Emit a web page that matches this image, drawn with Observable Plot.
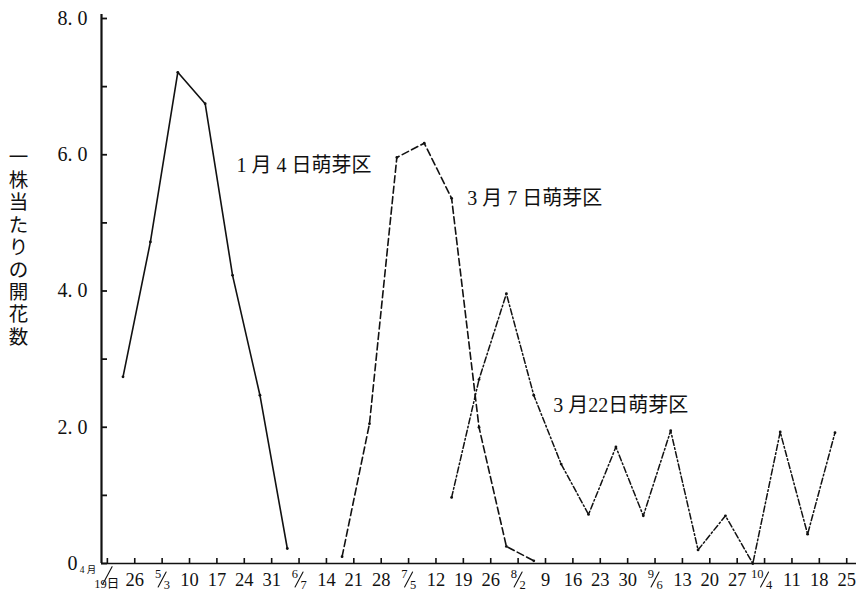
<!DOCTYPE html>
<html><head><meta charset="utf-8">
<script src="https://cdn.jsdelivr.net/npm/d3@7"></script>
<script src="https://cdn.jsdelivr.net/npm/@observablehq/plot@0.6"></script>
<style>body{margin:0;background:#fff;} #chart svg{display:block;}</style>
</head><body><div id="chart"></div>
<script>
const YEAR = 2001;
// week tick dates and their labels ("num/den" rendered as a stacked fraction)
const tickDates = ["04-19","04-26","05-03","05-10","05-17","05-24","05-31","06-07","06-14","06-21","06-28","07-05","07-12","07-19","07-26","08-02","08-09","08-16","08-23","08-30","09-06","09-13","09-20","09-27","10-04","10-11","10-18","10-25"];
const tickLabels = ["4 月/19日","26","5/3","10","17","24","31","6/7","14","21","28","7/5","12","19","26","8/2","9","16","23","30","9/6","13","20","27","10/4","11","18","25"];

// series: 1月4日萌芽区 (solid)
const jan4Dates = ["04-23","04-30","05-07","05-14","05-21","05-28","06-04"];
const jan4Values = [2.74, 4.72, 7.21, 6.75, 4.23, 2.47, 0.22];
// 3月7日萌芽区 (dashed)
const mar7Dates = ["06-18","06-25","07-02","07-09","07-16","07-23","07-30","08-06"];
const mar7Values = [0.10, 2.05, 5.96, 6.17, 5.36, 2.00, 0.25, 0.04];
// 3月22日萌芽区 (dash-dot)
const mar22Dates = ["07-16","07-23","07-30","08-06","08-13","08-20","08-27","09-03","09-10","09-17","09-24","10-01","10-08","10-15","10-22"];
const mar22Values = [0.97, 2.70, 3.96, 2.47, 1.46, 0.72, 1.71, 0.70, 1.95, 0.20, 0.70, 0.00, 1.93, 0.43, 1.92];

const yTicks = [0, 1, 2, 3, 4, 5, 6, 7, 8];
const yLabels = [0, 2, 4, 6, 8];
const yTitle = "一株当たりの開花数";

const seriesNames = ["1 月 4 日萌芽区", "3 月 7 日萌芽区", "3 月22日萌芽区"];
const annotDates = ["05-22", "07-20", "08-11"];
const annotValues = [5.84, 5.36, 2.32];

const d = s => new Date(`${YEAR}-${s}T00:00:00Z`);
const xDomain = [new Date(Date.UTC(YEAR, 3, 17, 12)), new Date(Date.UTC(YEAR, 9, 27, 12))];

const mk = (dates, vals) => dates.map((s, i) => ({date: d(s), value: vals[i]}));
const s1 = mk(jan4Dates, jan4Values);
const s2 = mk(mar7Dates, mar7Values);
const s3 = mk(mar22Dates, mar22Values);

const ticks = tickDates.map((s, i) => ({date: d(s), label: tickLabels[i]}));
const plain = ticks.filter(t => !t.label.includes("/"));
const fracs = ticks.filter(t => t.label.includes("/")).map(t => {
  const [num, den] = t.label.split("/");
  return {...t, num, den, first: num.includes("月")};
});
const fracN = fracs.filter(f => !f.first);
const fracF = fracs.filter(f => f.first);

const annots = seriesNames.map((n, i) => ({date: d(annotDates[i]), value: annotValues[i], text: n}));

const FONT = "'Liberation Serif', 'Noto Sans CJK JP', serif";
const ink = "#111";

// a plain stroke used for the fraction slash
const slash = {draw(ctx, l) { ctx.moveTo(0, 0); ctx.lineTo(0, -l); }};

const chart = Plot.plot({
  width: 856,
  height: 602,
  marginLeft: 101,
  marginRight: 0,
  marginTop: 18,
  marginBottom: 39,
  style: {fontFamily: FONT, background: "white", color: ink},
  x: {type: "utc", domain: xDomain, axis: null, label: null},
  y: {domain: [0, 8], axis: null, label: null},
  marks: [
    Plot.ruleY([0], {stroke: ink, strokeWidth: 1.6}),
    Plot.ruleX([xDomain[0]], {stroke: ink, strokeWidth: 2.2, insetTop: -4}),
    // inward ticks: axis ticks shifted so they point into the plot
    Plot.axisY({ticks: yTicks, tickSize: 6, dx: 6, tickFormat: () => "", label: null, stroke: ink, strokeWidth: 1.8}),
    Plot.axisX({ticks: ticks.map(t => t.date), tickSize: 5, dy: -5, tickFormat: () => "", label: null, stroke: ink, strokeWidth: 1.6}),
    Plot.text(yLabels, {y: v => v, frameAnchor: "left", dx: -29, textAnchor: "middle", fontSize: 20, fill: ink,
      text: v => v === 0 ? "0" : v.toFixed(1).replace(".", ". ")}),
    Plot.text(plain, {x: "date", text: "label", frameAnchor: "bottom", dy: 17, fontSize: 18.5, fill: ink, lineAnchor: "middle"}),
    // stacked fraction labels
    Plot.text(fracN, {x: "date", text: "num", frameAnchor: "bottom", dy: 10, dx: -1, textAnchor: "end", fontSize: 12.5, fill: ink, lineAnchor: "middle"}),
    Plot.vector(fracN, {x: "date", frameAnchor: "bottom", dy: 16, length: 17, rotate: 28, anchor: "middle", shape: slash, stroke: ink, strokeWidth: 1.1}),
    Plot.text(fracN, {x: "date", text: "den", frameAnchor: "bottom", dy: 21, dx: 1.5, textAnchor: "start", fontSize: 12.5, fill: ink, lineAnchor: "middle"}),
    Plot.text(fracF, {x: "date", text: "num", frameAnchor: "bottom", dy: 6, dx: -11, textAnchor: "end", fontSize: 9.5, fill: ink, lineAnchor: "middle"}),
    Plot.vector(fracF, {x: "date", frameAnchor: "bottom", dy: 12, length: 20, rotate: 28, anchor: "middle", shape: slash, stroke: ink, strokeWidth: 1.1}),
    Plot.text(fracF, {x: "date", text: "den", frameAnchor: "bottom", dy: 20, dx: -13, textAnchor: "start", fontSize: 12.5, fill: ink, lineAnchor: "middle"}),
    // series
    Plot.line(s1, {x: "date", y: "value", stroke: ink, strokeWidth: 1.6}),
    Plot.line(s2, {x: "date", y: "value", stroke: ink, strokeWidth: 1.6, strokeDasharray: "7,3.5"}),
    Plot.line(s3, {x: "date", y: "value", stroke: ink, strokeWidth: 1.5, strokeDasharray: "6,2.5,1.6,2.5"}),
    Plot.dot([...s1, ...s2, ...s3], {x: "date", y: "value", r: 1.4, fill: ink}),
    // annotations
    Plot.text(annots, {x: "date", y: "value", text: "text", textAnchor: "start", lineAnchor: "middle", fontSize: 20, fill: ink}),
    // y title (vertical)
    Plot.text([yTitle], {text: t => [...t].join("\n"), frameAnchor: "left", dx: -83, dy: -44, lineHeight: 1.15, fontSize: 19.5, fill: ink, textAnchor: "middle", lineAnchor: "middle"})
  ]
});
document.getElementById("chart").append(chart);
</script>
</body></html>
